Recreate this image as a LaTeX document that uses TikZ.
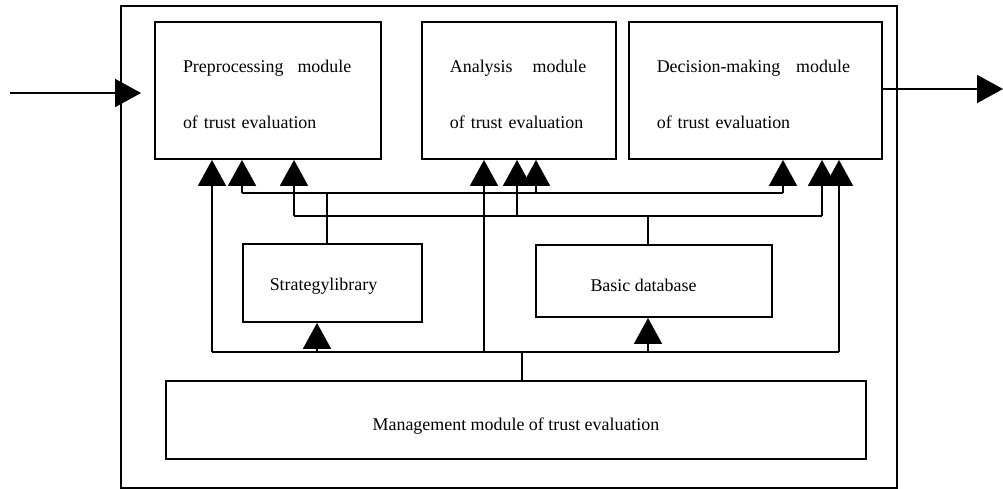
\documentclass[tikz,border=0pt]{standalone}
\usepackage{fontspec}
\setmainfont{Liberation Serif}
\usetikzlibrary{positioning,calc,arrows.meta}
\tikzstyle{line} = [draw, line width=1.1pt]
\tikzstyle{arrow} = [draw, line width=1.1pt, -{Triangle[width=0.56cm,length=0.52cm]}]
\tikzstyle{module} = [draw, line width=1.1pt, minimum height=2.74cm, inner xsep=0.56cm, align=left]
\tikzstyle{store} = [draw, line width=1.1pt, inner sep=0pt, text depth=0pt]

\begin{document}
\begin{tikzpicture}[x=0.02cm, y=-0.02cm, font=\fontsize{10.2}{12}\selectfont]
\useasboundingbox (0,0) rectangle (1003,489);
% frame of the system
\draw[line width=1.1pt] (121,6) rectangle (897,488);

\node[module, text width=3.40cm] (pre) at (268,90.5) {\rule{0pt}{11.5pt}Preprocessing\hspace{0.28cm}module\\[19.9pt]of trust evaluation};
\node[module, text width=2.76cm, right=0.78cm of pre] (ana) {\rule{0pt}{11.5pt}Analysis\hspace{0.4cm}module\\[19.9pt]of trust evaluation};
\node[module, text width=3.94cm, right=0.22cm of ana] (dec) {\rule{0pt}{11.5pt}Decision-making\hspace{0.32cm}module\\[19.9pt]of trust evaluation};

\node[store, minimum width=3.58cm, minimum height=1.56cm, text height=9.1pt] (lib) at (332.5,283) {Strategylibrary\kern0.36cm};
\node[store, minimum width=4.72cm, minimum height=1.44cm, text height=12.5pt] (db) at (654,281) {Basic database\kern0.42cm};
\node[store, minimum width=14cm, minimum height=1.56cm, text height=12.5pt] (mgmt) at (516,420) {Management module of trust evaluation};

% input and output
\coordinate (in) at (10,93);
\coordinate (out) at (1003,89);
\draw[arrow, shorten >=0.26cm] (in) -- (in -| pre.west);
\draw[arrow] (dec.east |- out) -- (out);

% strategy library bus
\coordinate (s0) at (327,193);
\draw[line] (lib.north -| s0) -- (s0);
\draw[line] (242,193) -- (783,193);
\foreach \x/\m in {242/pre, 536/ana, 783/dec}
  \draw[arrow] (\x,193) -- (\m.south -| \x,0);

% basic database bus
\coordinate (d0) at (648,216);
\draw[line] (db.north -| d0) -- (d0);
\draw[line] (294,216) -- (822,216);
\foreach \x/\m in {294/pre, 517/ana, 822/dec}
  \draw[arrow] (\x,216) -- (\m.south -| \x,0);

% management bus
\coordinate (m0) at (522,352);
\draw[line] (mgmt.north -| m0) -- (m0);
\draw[line] (212,352) -- (839,352);
\foreach \x/\m in {212/pre, 484/ana, 839/dec, 317/lib, 648/db}
  \draw[arrow] (\x,352) -- (\m.south -| \x,0);
\end{tikzpicture}
\end{document}
